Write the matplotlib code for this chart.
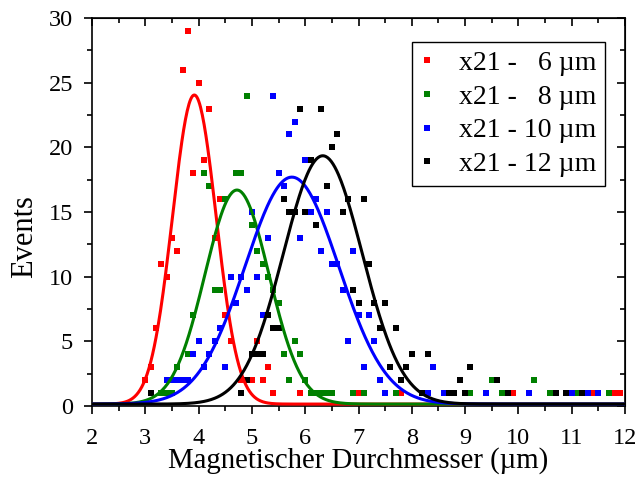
import numpy as np
import matplotlib
matplotlib.use("Agg")
import matplotlib.pyplot as plt
from matplotlib.ticker import MultipleLocator

plt.rcParams['font.family'] = ['Liberation Serif', 'DejaVu Serif']

# histogram points (diameter in um, events)
red_x = [3.0, 3.1, 3.2, 3.3, 3.4, 3.5, 3.6, 3.7, 3.8, 3.9, 4.0, 4.1, 4.2, 4.3, 4.4, 4.5,
         4.6, 4.8, 5.0, 5.1, 5.2, 5.3, 5.4, 5.9, 6.2, 7.0, 7.8, 9.9, 11.4, 11.8, 11.9]
red_y = [2, 3, 6, 11, 10, 13, 12, 26, 29, 18, 25, 19, 23, 13, 16, 7,
         5, 2, 2, 5, 2, 3, 1, 1, 1, 1, 1, 1, 1, 1, 1]

green_x = [3.3, 3.4, 3.5, 3.6, 3.8, 3.9, 4.1, 4.2, 4.3, 4.4, 4.5, 4.7, 4.8, 4.9, 5.0, 5.1,
           5.2, 5.3, 5.4, 5.5, 5.6, 5.7, 5.8, 5.9, 6.0, 6.1, 6.2, 6.3, 6.4, 6.5, 6.9, 7.1,
           7.7, 9.1, 9.5, 9.7, 10.3, 10.6, 11.1, 11.7]
green_y = [1, 1, 1, 3, 4, 7, 18, 17, 9, 9, 16, 18, 18, 24, 14, 12,
           11, 10, 9, 8, 4, 2, 5, 4, 2, 1, 1, 1, 1, 1, 1, 1,
           1, 1, 2, 1, 2, 1, 1, 1]

blue_x = [3.4, 3.5, 3.6, 3.7, 3.8, 3.9, 4.0, 4.1, 4.2, 4.3, 4.4, 4.5, 4.6, 4.7, 4.8, 4.9,
          5.0, 5.1, 5.2, 5.3, 5.4, 5.5, 5.6, 5.7, 5.8, 5.9, 6.0, 6.1, 6.2, 6.3, 6.4, 6.5,
          6.6, 6.7, 6.8, 6.9, 7.0, 7.1, 7.2, 7.3, 7.4, 7.5, 8.3, 8.4, 8.6, 9.4, 10.2, 11.0,
          11.3, 11.5]
blue_y = [2, 2, 2, 2, 2, 4, 5, 3, 4, 5, 6, 3, 10, 8, 10, 9,
          15, 10, 7, 13, 24, 18, 17, 21, 22, 13, 19, 15, 16, 12, 15, 11,
          11, 9, 5, 12, 7, 3, 7, 5, 2, 1, 1, 3, 1, 1, 1, 1,
          1, 1]

black_x = [3.1, 4.8, 4.9, 5.0, 5.1, 5.2, 5.3, 5.4, 5.5, 5.6, 5.7, 5.8, 5.9, 6.0, 6.1, 6.2,
           6.3, 6.4, 6.5, 6.6, 6.7, 6.8, 6.9, 7.0, 7.1, 7.2, 7.3, 7.4, 7.5, 7.6, 7.7, 7.8,
           7.9, 8.0, 8.2, 8.3, 8.7, 8.8, 8.9, 9.0, 9.1, 9.6, 9.8, 10.7, 10.9, 11.2]
black_y = [1, 1, 2, 4, 4, 4, 7, 6, 6, 16, 15, 15, 23, 15, 19, 14,
           23, 17, 20, 21, 15, 16, 9, 8, 16, 11, 8, 6, 8, 3, 6, 2,
           3, 4, 1, 4, 1, 1, 2, 1, 3, 2, 1, 1, 1, 1]

labels = ['x21 -   6 µm', 'x21 -   8 µm', 'x21 - 10 µm', 'x21 - 12 µm']
colors = ['#ff0000', '#008000', '#0000ff', '#000000']

# gaussian fit parameters: centre, amplitude, sigma (baseline y0)
fit_xc = [3.92, 4.72, 5.75, 6.33]
fit_amp = [23.9, 16.55, 17.55, 19.2]
fit_sigma = [0.41, 0.60, 0.88, 0.74]
y0 = 0.15

fig = plt.figure(figsize=(6.37, 4.88), dpi=100)
ax = fig.add_axes([0.1444, 0.168, 0.8368, 0.795])

xs_all = [red_x, green_x, blue_x, black_x]
ys_all = [red_y, green_y, blue_y, black_y]
for xs, ys, c, lab in zip(xs_all, ys_all, colors, labels):
    ax.plot(xs, ys, 's', color=c, ms=4, mew=0, label=lab, zorder=2)

xx = np.linspace(2, 12, 600)
for xc, a, s, c in zip(fit_xc, fit_amp, fit_sigma, colors):
    ax.plot(xx, y0 + a * np.exp(-(xx - xc) ** 2 / (2 * s ** 2)), color=c, lw=2.2, zorder=3)

ax.set_xlim(2, 12)
ax.set_ylim(0, 30)
ax.xaxis.set_major_locator(MultipleLocator(1))
ax.xaxis.set_minor_locator(MultipleLocator(0.5))
ax.yaxis.set_major_locator(MultipleLocator(5))
ax.yaxis.set_minor_locator(MultipleLocator(2.5))
ax.tick_params(which='both', direction='out', labelsize=17.5, width=1.2)
ax.tick_params(which='major', length=5.5)
ax.tick_params(which='minor', length=3.5)
ax.tick_params(axis='x', which='major', pad=10)
ax.tick_params(axis='y', which='major', pad=8)

# inward ticks on top and right
top = ax.secondary_xaxis('top')
top.xaxis.set_major_locator(MultipleLocator(1))
top.xaxis.set_minor_locator(MultipleLocator(0.5))
top.tick_params(which='both', direction='in', labeltop=False, width=1.2)
top.tick_params(which='major', length=6)
top.tick_params(which='minor', length=3.5)
right = ax.secondary_yaxis('right')
right.yaxis.set_major_locator(MultipleLocator(5))
right.yaxis.set_minor_locator(MultipleLocator(2.5))
right.tick_params(which='both', direction='in', labelright=False, width=1.2)
right.tick_params(which='major', length=6)
right.tick_params(which='minor', length=3.5)
for sp in ax.spines.values():
    sp.set_linewidth(1.2)

ax.set_xlabel('Magnetischer Durchmesser (µm)', fontsize=20.7)
ax.xaxis.set_label_coords(0.5, -0.107)
ax.set_ylabel('Events', fontsize=22)
ax.yaxis.set_label_coords(-0.099, 0.436)

leg = ax.legend(loc='upper right', bbox_to_anchor=(0.962, 0.938), fontsize=20,
                markerscale=1.0, handlelength=0.5, handletextpad=0.9,
                borderpad=0.3, borderaxespad=0, labelspacing=0.3,
                fancybox=False, framealpha=1)
leg.get_frame().set_edgecolor('black')
leg.get_frame().set_linewidth(1.0)

fig.savefig('out.png', dpi=100)
